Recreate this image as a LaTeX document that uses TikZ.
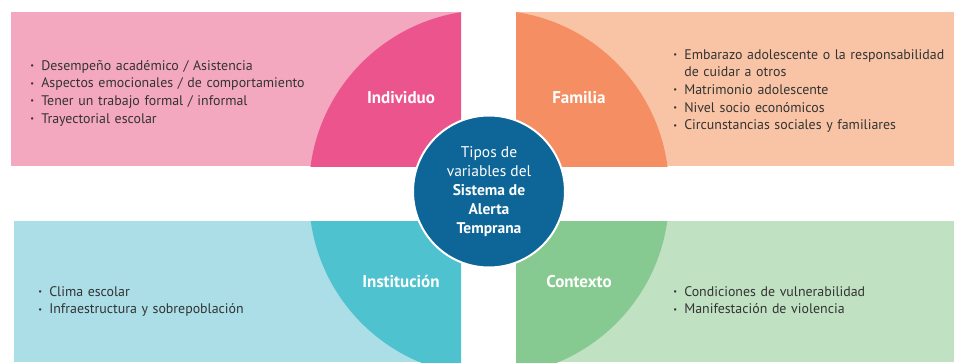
\documentclass[tikz,border=0pt]{standalone}
\usepackage{fontspec}
\setmainfont{PT Sans}
\usepackage{tikz}
\usetikzlibrary{positioning}
\definecolor{pinkL}{HTML}{F4A8C0}
\definecolor{pinkD}{HTML}{EB548C}
\definecolor{orangeL}{HTML}{F9C4A5}
\definecolor{orangeD}{HTML}{F68E63}
\definecolor{tealL}{HTML}{ABDEE7}
\definecolor{tealD}{HTML}{4EC3CF}
\definecolor{greenL}{HTML}{C1E1C3}
\definecolor{greenD}{HTML}{86C991}
\definecolor{sat}{HTML}{0E6698}
\definecolor{textgray}{HTML}{333333}
\newcommand{\itm}{\makebox[11pt][l]{\raisebox{1.5pt}{\scalebox{0.6}{\textbullet}}}}

\begin{document}
\begin{tikzpicture}[
            x = 1pt, y = -1pt, % pixel units, y going down
            semithick
        ]

        \tikzstyle{head}=[
            text = white,
            font = \fontsize{17}{19}\selectfont\bfseries,
            inner sep = 0pt,
            anchor = base
        ]
        \tikzstyle{items}=[
            text = textgray,
            font = \fontsize{13.9}{17.7}\selectfont,
            inner sep = 0pt,
            anchor = base west,
            align = left,
            text width = 300pt
        ]

        \useasboundingbox (0,0) rectangle (954,362);

	% top row
        \fill[pinkL] (11,12) rectangle (461,166);
        \begin{scope}
          \clip (11,12) rectangle (461,166);
          \fill[pinkD] (489,190) circle[radius=180];
        \end{scope}
        \fill[orangeL] (516,12) rectangle (954,166);
        \begin{scope}
          \clip (516,12) rectangle (954,166);
          \fill[orangeD] (489,190) circle[radius=180];
        \end{scope}

	% bottom row
        \fill[tealL] (14,221) rectangle (461,362);
        \begin{scope}
          \clip (14,221) rectangle (461,362);
          \fill[tealD] (489,196) circle[radius=180];
        \end{scope}
        \fill[greenL] (516,221) rectangle (954,362);
        \begin{scope}
          \clip (516,221) rectangle (954,362);
          \fill[greenD] (489,196) circle[radius=180];
        \end{scope}

         % headings
         \node[head] (Ind) at (401,103) {Individuo};
         \node[head] (Fam) at (579,103) {Familia};
         \node[head] (Ins) at (401,287.5) {Institución};
         \node[head] (Con) at (579,287.5) {Contexto};

         % lists
         \node[items] (IndList) at (30,70) {\itm Desempeño académico / Asistencia\\
             \itm Aspectos emocionales / de comportamiento\\
             \itm Tener un trabajo formal / informal\\
             \itm Trayectorial escolar};
         \node[items] (FamList) at (673,59) {\itm Embarazo adolescente o la responsabilidad\\
             \hspace*{11pt}de cuidar a otros\\
             \itm Matrimonio adolescente\\
             \itm Nivel socio económicos\\
             \itm Circunstancias sociales y familiares};
         \node[items] (InsList) at (38,296) {\itm Clima escolar\\
             \itm Infraestructura y sobrepoblación};
         \node[items] (ConList) at (673,296) {\itm Condiciones de vulnerabilidad\\
             \itm Manifestación de violencia};

          % centre
          \node[circle, fill = sat, draw = white, line width = 2pt,
                minimum size = 152pt, inner sep = 0pt, align = center,
                text = white, font = \fontsize{15.5}{19}\selectfont]
                (Tipos) at (489,191.5) {Tipos de\\variables del\\
                \textbf{Sistema de}\\\textbf{Alerta}\\\textbf{Temprana}};

  \end{tikzpicture}
\end{document}
